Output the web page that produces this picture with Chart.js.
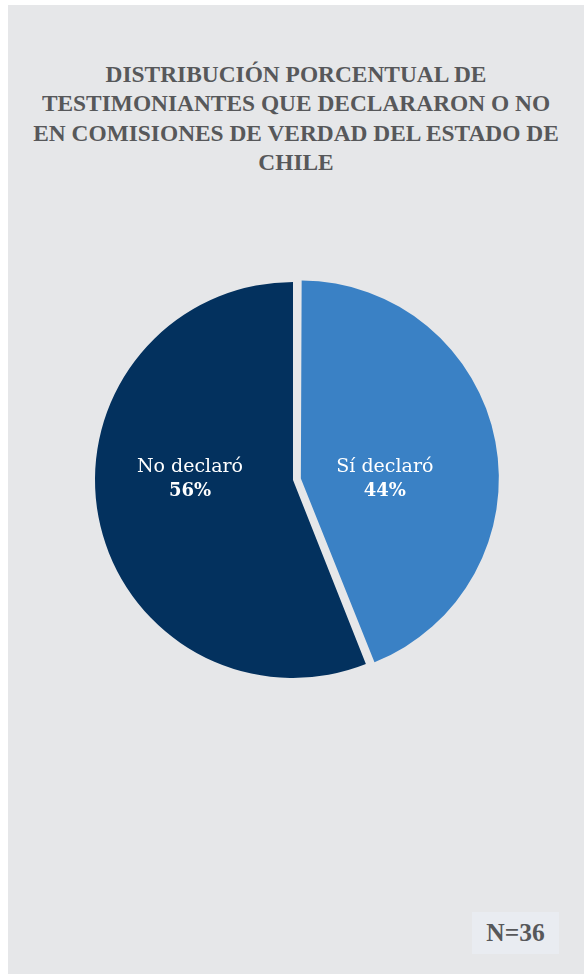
<!DOCTYPE html>
<html lang="es">
<head>
<meta charset="utf-8">
<title>Testimoniantes en Comisiones de Verdad</title>
<script src="https://cdn.jsdelivr.net/npm/chart.js@4.4.1/dist/chart.umd.min.js"></script>
<style>
  html, body { margin: 0; padding: 0; background: #ffffff; overflow: hidden; }
  .panel {
    position: absolute; left: 8px; top: 5px; width: 576px; height: 969px;
    background: #e6e7e9;
  }
  .title {
    position: absolute; left: 8px; top: 60px; width: 576px;
    text-align: center; color: #57585a;
    font: bold 23.4px/29.3px "Liberation Serif", "Times New Roman", serif;
  }
  .chart-box { position: absolute; left: 2px; top: 0; width: 582px; height: 960px; }
  .n-box {
    position: absolute; left: 472px; top: 912px; width: 87px; height: 42px;
    background: #e9ecf1; color: #57585a; text-align: center;
    font: bold 25.5px/42px "Liberation Serif", "Times New Roman", serif;
  }
</style>
</head>
<body>
<div class="panel"></div>
<div class="title">DISTRIBUCIÓN PORCENTUAL DE<br>TESTIMONIANTES QUE DECLARARON O NO<br>EN COMISIONES DE VERDAD DEL ESTADO DE<br>CHILE</div>
<div class="chart-box"><canvas id="pie"></canvas></div>
<div class="n-box">N=36</div>
<script>
// data
const categories = ['Sí declaró', 'No declaró'];
const percentages = [44, 56];
const sliceColors = ['#3a81c5', '#03315e'];
// Chart.js moves an arc by offset/4 px, so 32 -> 8 px pulled out
const sliceOffsets = [32, 0];

// label placement relative to each slice's own center (px)
const labelShift = [{ x: 84, y: 0 }, { x: -103, y: -1.5 }];

// keep the pulled-out slice at the same radius as the other one
const keepRadius = {
  id: 'keepRadius',
  afterDatasetUpdate(chart, args) {
    const ds = chart.data.datasets[args.index];
    args.meta.data.forEach((arc, i) => {
      const off = (ds.offset[i] || 0) / 4;
      if (!off) return;
      const fix = 1 - Math.sin(Math.min(Math.PI, arc.circumference || 0));
      arc.outerRadius -= off * fix;
    });
  }
};

const sliceLabels = {
  id: 'sliceLabels',
  afterDatasetsDraw(chart) {
    const ctx = chart.ctx;
    const meta = chart.getDatasetMeta(0);
    const ds = chart.data.datasets[0];
    meta.data.forEach((arc, i) => {
      const off = (ds.offset[i] || 0) / 4;
      const mid = (arc.startAngle + arc.endAngle) / 2;
      const cx = arc.x + Math.cos(mid) * off + labelShift[i].x;
      const cy = arc.y + Math.sin(mid) * off + labelShift[i].y;
      ctx.save();
      ctx.fillStyle = '#ffffff';
      ctx.textAlign = 'center';
      ctx.textBaseline = 'alphabetic';
      ctx.font = '19px "DejaVu Serif", serif';
      ctx.fillText(chart.data.labels[i], cx, cy - 6.5);
      ctx.font = 'bold 18px "DejaVu Serif", serif';
      ctx.fillText(ds.data[i] + '%', cx, cy + 17.5);
      ctx.restore();
    });
  }
};

new Chart(document.getElementById('pie'), {
  type: 'pie',
  data: {
    labels: categories,
    datasets: [{
      data: percentages,
      backgroundColor: sliceColors,
      borderWidth: 0,
      offset: sliceOffsets
    }]
  },
  options: {
    responsive: true,
    maintainAspectRatio: false,
    animation: false,
    radius: 198,
    layout: { padding: 0 },
    plugins: {
      legend: { display: false },
      tooltip: { enabled: false },
      title: { display: false }
    }
  },
  plugins: [keepRadius, sliceLabels]
});
</script>
</body>
</html>
